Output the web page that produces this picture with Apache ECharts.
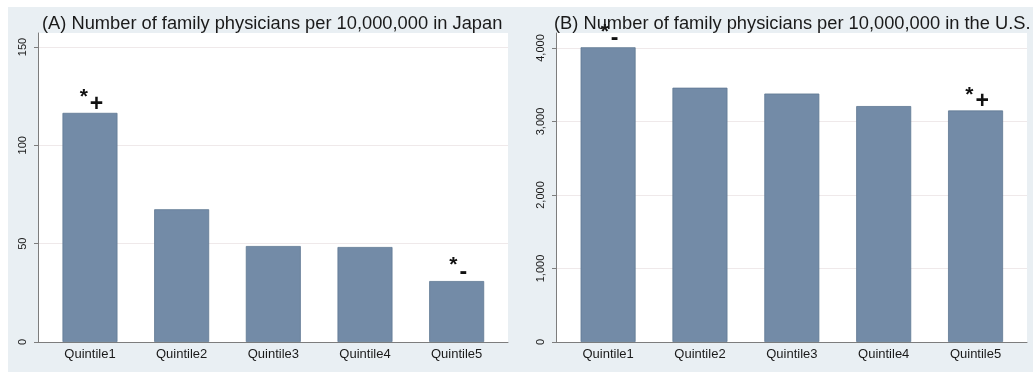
<!DOCTYPE html>
<html>
<head>
<meta charset="utf-8">
<title>Family physicians by quintile</title>
<script src="https://cdn.jsdelivr.net/npm/echarts@6/dist/echarts.min.js"></script>
<style>
html, body { margin: 0; padding: 0; background: #fff; }
#chart { width: 1033px; height: 373px; }
</style>
</head>
<body>
<div id="chart"></div>
<script>
// values
const quintiles = ['Quintile1', 'Quintile2', 'Quintile3', 'Quintile4', 'Quintile5']
const japanValues = [116.5, 67.5, 48.8, 48.3, 31.0]
const usValues = [4010, 3460, 3380, 3210, 3150]
const japanMarks = ['*+', '', '', '', '*-']
const usMarks = ['*-', '', '', '', '*+']
const japanTicks = [0, 50, 100, 150]
const usTicks = [0, 1000, 2000, 3000, 4000]
const titleA = '(A) Number of family physicians per 10,000,000 in Japan'
const titleB = '(B) Number of family physicians per 10,000,000 in the U.S.'

const font = 'Liberation Sans'
const barColor = '#738ba7'
const axisColor = '#7d7d7d'

function markLabel (marks) {
  return {
    show: true,
    position: 'top',
    distance: -3,
    formatter: p => {
      const m = marks[p.dataIndex]
      if (!m) return ''
      return '{s|*}{p|' + m[1] + '}'
    },
    rich: {
      s: { fontFamily: font, fontSize: 21, fontWeight: 'bold', color: '#111', verticalAlign: 'bottom', padding: [0, 2, 8, 3] },
      p: { fontFamily: font, fontSize: 23, color: '#111', fontWeight: 'bold', verticalAlign: 'bottom' }
    }
  }
}

function xAxisFor (gridIndex) {
  return {
    type: 'value',
    gridIndex: gridIndex,
    min: -0.567,
    max: 4.56,
    axisLine: { show: true, onZero: false, lineStyle: { color: axisColor } },
    axisTick: { show: false },
    splitLine: { show: false },
    axisLabel: {
      customValues: [0, 1, 2, 3, 4],
      formatter: v => quintiles[Math.round(v)],
      fontFamily: font,
      fontSize: 13,
      color: '#1a1a1a',
      margin: 6
    }
  }
}

function yAxisFor (gridIndex, max, ticks, comma) {
  return {
    type: 'value',
    gridIndex: gridIndex,
    min: 0,
    max: max,
    axisLine: { show: true, onZero: false, lineStyle: { color: axisColor } },
    axisTick: { show: true, length: 4, customValues: ticks, lineStyle: { color: axisColor } },
    splitLine: { show: true, lineStyle: { color: '#efe9ea' } },
    axisLabel: {
      customValues: ticks,
      rotate: 90,
      fontFamily: font,
      fontSize: 11,
      color: '#1a1a1a',
      margin: 10,
      formatter: v => comma ? v.toLocaleString('en-US') : String(v)
    }
  }
}

const chart = echarts.init(document.getElementById('chart'))

chart.setOption({
  animation: false,
  backgroundColor: '#ffffff',
  graphic: [
    { type: 'rect', z: -20, shape: { x: 8, y: 7, width: 1025, height: 365 }, style: { fill: '#e9eff3' } },
    { type: 'rect', z: -10, shape: { x: 38, y: 33, width: 470, height: 309 }, style: { fill: '#ffffff' } },
    { type: 'rect', z: -10, shape: { x: 556, y: 33, width: 471, height: 309 }, style: { fill: '#ffffff' } }
  ],
  title: [
    { text: titleA, left: 42, top: 15, padding: 0, textStyle: { fontFamily: font, fontSize: 18.3, fontWeight: 'normal', color: '#1a1a1a' } },
    { text: titleB, left: 554, top: 15, padding: 0, textStyle: { fontFamily: font, fontSize: 18.3, fontWeight: 'normal', color: '#1a1a1a' } }
  ],
  grid: [
    { left: 38, right: 525, top: 33, bottom: 31 },
    { left: 556, right: 6, top: 33, bottom: 31 }
  ],
  xAxis: [xAxisFor(0), xAxisFor(1)],
  yAxis: [
    yAxisFor(0, 157.1, japanTicks, false),
    yAxisFor(1, 4204, usTicks, true)
  ],
  series: [
    {
      type: 'bar',
      xAxisIndex: 0,
      yAxisIndex: 0,
      barWidth: 55,
      data: japanValues.map((v, i) => [i, v]),
      itemStyle: { color: barColor, borderColor: '#5f7893', borderWidth: 0.8 },
      label: markLabel(japanMarks)
    },
    {
      type: 'bar',
      xAxisIndex: 1,
      yAxisIndex: 1,
      barWidth: 55,
      data: usValues.map((v, i) => [i, v]),
      itemStyle: { color: barColor, borderColor: '#5f7893', borderWidth: 0.8 },
      label: markLabel(usMarks)
    }
  ]
})
</script>
</body>
</html>
